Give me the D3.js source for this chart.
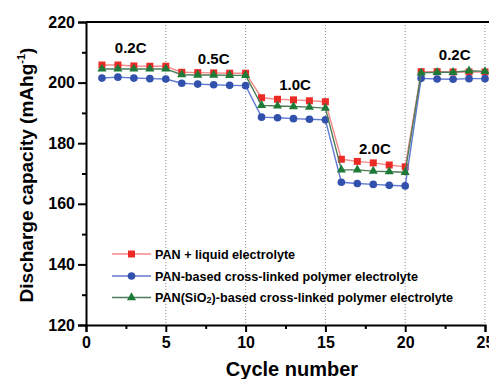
<!DOCTYPE html>
<html>
<head>
<meta charset="utf-8">
<script src="https://cdn.jsdelivr.net/npm/d3@7"></script>
<style>
  body { margin: 0; background: #fff; }
  svg { display: block; font-family: "Liberation Sans", Arial, sans-serif; font-weight: bold; }
</style>
</head>
<body>
<script>
// data
const cycles = [1, 2, 3, 4, 5, 6, 7, 8, 9, 10, 11, 12, 13, 14, 15, 16, 17, 18, 19, 20, 21, 22, 23, 24, 25];
const panLiquid = [205.8, 205.8, 205.5, 205.4, 205.4, 203.4, 203.3, 203.2, 203.1, 203.1,
  195.0, 194.5, 194.3, 194.0, 193.7, 174.7, 174.0, 173.5, 172.8, 172.2,
  203.6, 203.6, 203.5, 203.5, 203.5];
const panCrossLinked = [201.5, 201.8, 201.5, 201.3, 201.2, 199.8, 199.5, 199.3, 199.1, 199.0,
  188.6, 188.4, 188.1, 187.9, 187.7, 167.1, 166.7, 166.4, 166.1, 165.9,
  201.4, 201.2, 201.1, 201.3, 201.3];
const panSiO2 = [204.5, 204.5, 204.5, 204.5, 204.5, 202.6, 202.5, 202.5, 202.4, 202.4,
  192.5, 192.3, 192.1, 191.9, 191.6, 171.2, 171.2, 170.8, 170.6, 170.4,
  203.2, 203.4, 203.4, 203.9, 203.7];

const rateLabels = ["0.2C", "0.5C", "1.0C", "2.0C", "0.2C"];
const rateX = [2.8, 8.0, 13.1, 18.1, 23.1];
const rateY = [209.7, 206.0, 197.6, 176.4, 207.5];

const xTicks = [0, 5, 10, 15, 20, 25];
const xMinor = [2.5, 7.5, 12.5, 17.5, 22.5];
const yTicks = [120, 140, 160, 180, 200, 220];
const yMinor = [130, 150, 170, 190, 210];
const dividers = [5, 10, 15, 20, 25];

const width = 489;
const height = 379;
const mLeft = 86, mTop = 22, mRight = 485, mBottom = 325;

const svg = d3.select("body").append("svg")
  .attr("width", width)
  .attr("height", height);

const x = d3.scaleLinear().domain([0, 25]).range([mLeft, mRight]);
const y = d3.scaleLinear().domain([120, 220]).range([mBottom, mTop]);

// dotted dividers between rate steps
svg.append("g")
  .selectAll("line")
  .data(dividers)
  .join("line")
  .attr("x1", d => x(d)).attr("x2", d => x(d))
  .attr("y1", mTop).attr("y2", mBottom)
  .attr("stroke", "#8a8a8a")
  .attr("stroke-width", 1)
  .attr("stroke-dasharray", "1,2");

// top frame line
svg.append("line")
  .attr("x1", mLeft).attr("x2", width)
  .attr("y1", mTop).attr("y2", mTop)
  .attr("stroke", "#000").attr("stroke-width", 2);

// axes
svg.append("g")
  .attr("transform", "translate(0," + mBottom + ")")
  .call(d3.axisBottom(x).tickValues(xTicks).tickSize(7).tickPadding(5).tickFormat(d3.format("d")));
svg.append("g")
  .attr("transform", "translate(0," + mBottom + ")")
  .call(d3.axisBottom(x).tickValues(xMinor).tickSize(4).tickFormat(""))
  .call(g => g.select(".domain").remove());

svg.append("g")
  .attr("transform", "translate(" + mLeft + ",0)")
  .call(d3.axisLeft(y).tickValues(yTicks).tickSize(8).tickPadding(3));
svg.append("g")
  .attr("transform", "translate(" + mLeft + ",0)")
  .call(d3.axisLeft(y).tickValues(yMinor).tickSize(4).tickFormat(""))
  .call(g => g.select(".domain").remove());

svg.selectAll(".domain").attr("stroke-width", 2).attr("stroke", "#000");
svg.selectAll(".tick line").attr("stroke-width", 2).attr("stroke", "#000");
svg.selectAll(".tick text")
  .attr("font-size", 16)
  .attr("font-weight", "bold")
  .attr("font-family", "'Liberation Sans', Arial, sans-serif")
  .attr("fill", "#000");

// axis titles
svg.append("text")
  .attr("x", 292).attr("y", 376)
  .attr("text-anchor", "middle")
  .attr("font-size", 20)
  .text("Cycle number");

const yTitle = svg.append("text")
  .attr("transform", "translate(33,175) rotate(-90)")
  .attr("text-anchor", "middle")
  .attr("font-size", 19);
yTitle.append("tspan").text("Discharge capacity (mAhg");
yTitle.append("tspan").attr("font-size", 11).attr("dy", -8).text("-1");
yTitle.append("tspan").attr("dy", 8).text(")");

// series
const series = [
  { name: "PAN + liquid electrolyte", values: panLiquid, line: "#f58a8a", fill: "#ec2a26", symbol: d3.symbolSquare, size: 49 },
  { name: "PAN-based cross-linked polymer electrolyte", values: panCrossLinked, line: "#6079d2", fill: "#3151ad", symbol: d3.symbolCircle, size: 46 },
  { name: "PAN(SiO2)-based cross-linked polymer electrolyte", values: panSiO2, line: "#4c7b57", fill: "#1d7a37", symbol: d3.symbolTriangle, size: 36 }
];

const line = d3.line()
  .x((d, i) => x(cycles[i]))
  .y(d => y(d));

series.forEach(s => {
  const g = svg.append("g");
  g.append("path")
    .datum(s.values)
    .attr("fill", "none")
    .attr("stroke", s.line)
    .attr("stroke-width", 1.4)
    .attr("d", line);
  g.selectAll("path.pt")
    .data(s.values)
    .join("path")
    .attr("class", "pt")
    .attr("transform", (d, i) => "translate(" + x(cycles[i]) + "," + y(d) + ")")
    .attr("d", d3.symbol().type(s.symbol).size(s.size))
    .attr("fill", s.fill);
});

// rate labels
svg.append("g")
  .selectAll("text")
  .data(rateLabels)
  .join("text")
  .attr("x", (d, i) => x(rateX[i]))
  .attr("y", (d, i) => y(rateY[i]))
  .attr("text-anchor", "middle")
  .attr("font-size", 15)
  .text(d => d);

// legend
const legend = svg.append("g");
const rows = [254, 276, 297.5];
series.forEach((s, i) => {
  const row = legend.append("g").attr("transform", "translate(0," + rows[i] + ")");
  row.append("line")
    .attr("x1", 112).attr("x2", 151)
    .attr("stroke", s.line).attr("stroke-width", 1.4);
  row.append("path")
    .attr("transform", "translate(131.5,0)")
    .attr("d", d3.symbol().type(s.symbol).size(s.size))
    .attr("fill", s.fill);
  const t = row.append("text")
    .attr("x", 155).attr("y", 4.5)
    .attr("font-size", 12.6);
  if (i === 2) {
    t.append("tspan").text("PAN(SiO");
    t.append("tspan").attr("font-size", 9).attr("dy", 1).text("2");
    t.append("tspan").attr("dy", -1).text(")-based cross-linked polymer electrolyte");
  } else {
    t.text(s.name);
  }
});
</script>
</body>
</html>
